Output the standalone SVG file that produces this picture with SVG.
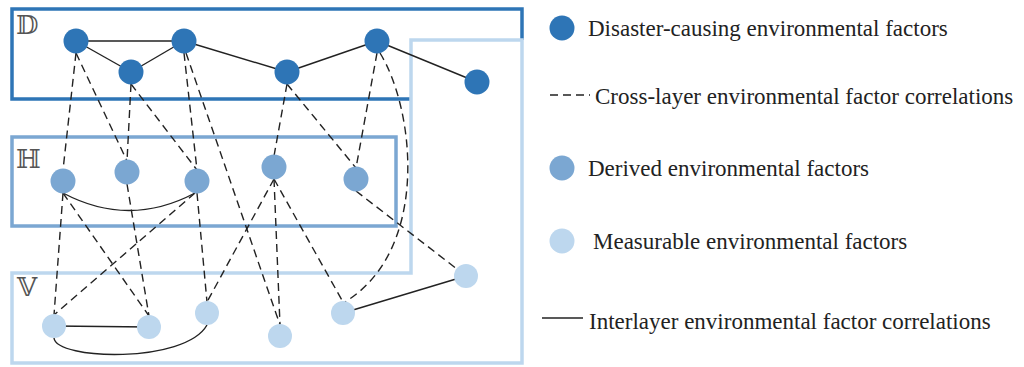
<svg xmlns="http://www.w3.org/2000/svg" width="1024" height="367" viewBox="0 0 1024 367">
  <style>
    .dn { fill: #2E75B6; }
    .hn { fill: #7BA7D2; }
    .vn { fill: #BDD7EE; }
    .dash { fill: none; stroke: #222; stroke-width: 1.4; stroke-dasharray: 8 5; }
    .solid { fill: none; stroke: #222; stroke-width: 1.4; }
    .lbl { font-family: "DejaVu Serif", "DejaVu Sans", serif; font-size: 26px; fill: #555; }
    .leg { font-family: "Liberation Serif", "Times New Roman", serif; font-size: 23px; fill: #222; }
  </style>

  <g id="layers">
    <path id="box-D" d="M 522 40 V 9 H 12 V 99 H 411" fill="none" stroke="#2E75B6" stroke-width="3.5"/>
    <path id="box-V" d="M 12 273 H 411 V 40 H 522 V 363 H 12 Z" fill="none" stroke="#BDD7EE" stroke-width="3.5"/>
    <rect id="box-H" x="12" y="137" width="384" height="89" fill="none" stroke="#7BA7D2" stroke-width="3.5"/>
    <text class="lbl" x="16" y="34">𝔻</text>
    <text class="lbl" x="16" y="168">ℍ</text>
    <text class="lbl" x="17" y="296">𝕍</text>
  </g>

  <g id="connectors">
    <!-- interlayer solid -->
    <line class="solid" x1="76" y1="41" x2="184" y2="41"/>
    <line class="solid" x1="76" y1="41" x2="131" y2="72"/>
    <line class="solid" x1="131" y1="72" x2="184" y2="41"/>
    <line class="solid" x1="184" y1="41" x2="287" y2="72"/>
    <line class="solid" x1="287" y1="72" x2="377" y2="41"/>
    <line class="solid" x1="377" y1="41" x2="477" y2="82"/>
    <path class="solid" d="M 63 193 Q 129 228 195 193"/>
    <line class="solid" x1="54" y1="326" x2="149" y2="327"/>
    <path class="solid" d="M 54 338 C 56 360, 185 364, 207 325"/>
    <line class="solid" x1="343" y1="313" x2="466" y2="276"/>
    <!-- cross-layer dashed -->
    <line class="dash" x1="76" y1="53" x2="63" y2="170"/>
    <line class="dash" x1="76" y1="53" x2="127" y2="161"/>
    <line class="dash" x1="131" y1="84" x2="127" y2="161"/>
    <line class="dash" x1="131" y1="84" x2="197" y2="170"/>
    <line class="dash" x1="184" y1="53" x2="197" y2="170"/>
    <line class="dash" x1="186" y1="53" x2="280" y2="325"/>
    <line class="dash" x1="287" y1="84" x2="274" y2="156"/>
    <line class="dash" x1="287" y1="84" x2="356" y2="168"/>
    <line class="dash" x1="377" y1="53" x2="356" y2="168"/>
    <path class="dash" d="M 380 53 C 415 110, 430 250, 345 302"/>
    <line class="dash" x1="63" y1="193" x2="54" y2="315"/>
    <line class="dash" x1="63" y1="193" x2="149" y2="316"/>
    <line class="dash" x1="127" y1="184" x2="149" y2="316"/>
    <line class="dash" x1="195" y1="193" x2="54" y2="315"/>
    <line class="dash" x1="197" y1="193" x2="207" y2="302"/>
    <line class="dash" x1="274" y1="179" x2="207" y2="302"/>
    <line class="dash" x1="274" y1="179" x2="280" y2="325"/>
    <line class="dash" x1="274" y1="179" x2="343" y2="302"/>
    <line class="dash" x1="356" y1="191" x2="466" y2="276"/>
  </g>

  <g id="node-D1"><circle class="dn" cx="76" cy="41" r="12.5"/></g>
  <g id="node-D2"><circle class="dn" cx="131" cy="72" r="12.5"/></g>
  <g id="node-D3"><circle class="dn" cx="184" cy="41" r="12.5"/></g>
  <g id="node-D4"><circle class="dn" cx="287" cy="72" r="12.5"/></g>
  <g id="node-D5"><circle class="dn" cx="377" cy="41" r="12.5"/></g>
  <g id="node-D6"><circle class="dn" cx="477" cy="82" r="12.5"/></g>

  <g id="node-H1"><circle class="hn" cx="63" cy="181" r="12.5"/></g>
  <g id="node-H2"><circle class="hn" cx="127" cy="172" r="12.5"/></g>
  <g id="node-H3"><circle class="hn" cx="197" cy="181" r="12.5"/></g>
  <g id="node-H4"><circle class="hn" cx="274" cy="167" r="12.5"/></g>
  <g id="node-H5"><circle class="hn" cx="356" cy="179" r="12.5"/></g>

  <g id="node-V1"><circle class="vn" cx="54" cy="326" r="12"/></g>
  <g id="node-V2"><circle class="vn" cx="149" cy="327" r="12"/></g>
  <g id="node-V3"><circle class="vn" cx="207" cy="313" r="12"/></g>
  <g id="node-V4"><circle class="vn" cx="280" cy="336" r="12"/></g>
  <g id="node-V5"><circle class="vn" cx="343" cy="313" r="12"/></g>
  <g id="node-V6"><circle class="vn" cx="466" cy="276" r="12"/></g>

  <g id="legend">
    <circle class="dn" cx="562" cy="28" r="12.5"/>
    <text class="leg" x="588" y="36">Disaster-causing environmental factors</text>
    <line class="dash" x1="550" y1="95" x2="590" y2="95"/>
    <text class="leg" x="595" y="104">Cross-layer environmental factor correlations</text>
    <circle class="hn" cx="562" cy="168" r="12.5"/>
    <text class="leg" x="588" y="176">Derived environmental factors</text>
    <circle class="vn" cx="562" cy="241" r="12.5"/>
    <text class="leg" x="593" y="249">Measurable environmental factors</text>
    <line class="solid" x1="542" y1="318" x2="583" y2="318"/>
    <text class="leg" x="589" y="329">Interlayer environmental factor correlations</text>
  </g>
</svg>
